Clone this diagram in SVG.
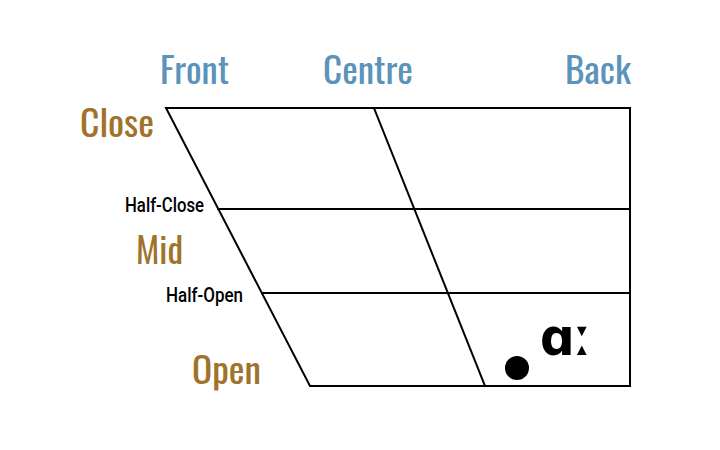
<svg xmlns="http://www.w3.org/2000/svg" width="720" height="450" viewBox="0 0 720 450">
<style>
.ln{stroke:#000;stroke-width:2;fill:none;stroke-linecap:square}
.hd{font-family:Oswald,"Liberation Sans Narrow","DejaVu Sans Condensed","Liberation Sans",sans-serif;font-size:36px;fill:#5b93bb}
.ht{font-family:Oswald,"Liberation Sans Narrow","DejaVu Sans Condensed","Liberation Sans",sans-serif;font-size:36px;fill:#a0732a}
.sm{font-family:Roboto,"Liberation Sans",sans-serif;font-size:21px;font-weight:500;fill:#000}
.ipa{font-family:"DejaVu Sans","Noto Sans",sans-serif;font-weight:bold;font-size:52px;fill:#000}
</style>
<rect width="720" height="450" fill="#fff"/>
<g id="connectors">
<polygon class="ln" points="166,108 630,108 630,386 310,386"/>
<line class="ln" x1="374" y1="108" x2="485" y2="386"/>
<line class="ln" x1="218" y1="209" x2="630" y2="209"/>
<line class="ln" x1="262" y1="293" x2="630" y2="293"/>
</g>
<g id="front"><text class="hd" x="160" y="84" textLength="69" lengthAdjust="spacingAndGlyphs">Front</text></g>
<g id="centre"><text class="hd" x="323" y="84" textLength="90" lengthAdjust="spacingAndGlyphs">Centre</text></g>
<g id="back"><text class="hd" x="565" y="84" textLength="66" lengthAdjust="spacingAndGlyphs">Back</text></g>
<g id="close"><text class="ht" x="80" y="137" textLength="74" lengthAdjust="spacingAndGlyphs">Close</text></g>
<g id="mid"><text class="ht" x="136" y="264" textLength="47" lengthAdjust="spacingAndGlyphs">Mid</text></g>
<g id="open"><text class="ht" x="192" y="384" textLength="69" lengthAdjust="spacingAndGlyphs">Open</text></g>
<g id="half-close"><text class="sm" x="125" y="212" textLength="79" lengthAdjust="spacingAndGlyphs">Half-Close</text></g>
<g id="half-open"><text class="sm" x="166" y="302" textLength="77" lengthAdjust="spacingAndGlyphs">Half-Open</text></g>
<g id="vowel">
<circle cx="517" cy="368" r="12" fill="#000"/>
<text class="ipa" x="540" y="355" textLength="51" lengthAdjust="spacingAndGlyphs">ɑː</text>
</g>
</svg>
